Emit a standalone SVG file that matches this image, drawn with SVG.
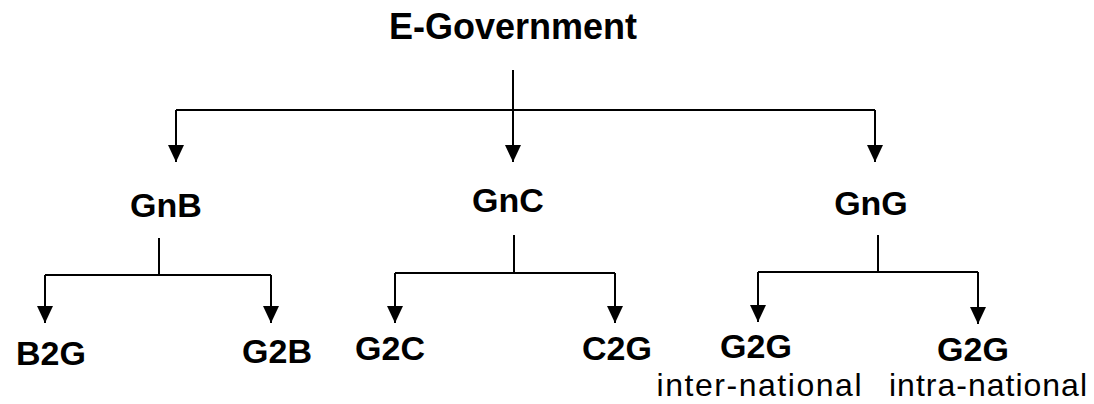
<svg xmlns="http://www.w3.org/2000/svg" width="1094" height="404" viewBox="0 0 1094 404">
<style>
.lbl{font-family:"Liberation Sans",Arial,sans-serif;font-weight:bold;font-size:34px;fill:#000;text-anchor:middle}
.top{font-size:36px}
.sub{font-family:"Liberation Sans",Arial,sans-serif;font-size:32px;fill:#000;text-anchor:middle}
.c{fill:none;stroke:#000;stroke-width:2}
</style>
<defs>
<marker id="ah" markerUnits="userSpaceOnUse" markerWidth="18" markerHeight="18" refX="17" refY="8" orient="auto" viewBox="0 0 18 16">
<path d="M0,0 L17,8 L0,16 z" fill="#000"/>
</marker>
</defs>
<rect width="1094" height="404" fill="#fff"/>
<g id="connectors">
<path class="c" d="M513,70 V162" marker-end="url(#ah)"/>
<path class="c" d="M176,110 H875"/>
<path class="c" d="M176,110 V162" marker-end="url(#ah)"/>
<path class="c" d="M875,110 V162" marker-end="url(#ah)"/>
<path class="c" d="M159,238 V275"/>
<path class="c" d="M45,275 H271"/>
<path class="c" d="M45,275 V323" marker-end="url(#ah)"/>
<path class="c" d="M271,275 V323" marker-end="url(#ah)"/>
<path class="c" d="M514,235 V273"/>
<path class="c" d="M395,273 H615"/>
<path class="c" d="M395,273 V323" marker-end="url(#ah)"/>
<path class="c" d="M615,273 V323" marker-end="url(#ah)"/>
<path class="c" d="M878,235 V272"/>
<path class="c" d="M758,272 H978"/>
<path class="c" d="M758,272 V322" marker-end="url(#ah)"/>
<path class="c" d="M978,272 V324" marker-end="url(#ah)"/>
</g>
<g id="egov"><text class="lbl top" x="513" y="39">E-Government</text></g>
<g id="gnb"><text class="lbl" x="166" y="217">GnB</text></g>
<g id="gnc"><text class="lbl" x="508" y="212">GnC</text></g>
<g id="gng"><text class="lbl" x="871" y="215">GnG</text></g>
<g id="b2g"><text class="lbl" x="51" y="365">B2G</text></g>
<g id="g2b"><text class="lbl" x="277" y="363">G2B</text></g>
<g id="g2c"><text class="lbl" x="390" y="360">G2C</text></g>
<g id="c2g"><text class="lbl" x="617" y="360">C2G</text></g>
<g id="g2g-inter"><text class="lbl" x="756" y="358">G2G</text><text class="sub" x="759" y="396" textLength="205" lengthAdjust="spacing">inter-national</text></g>
<g id="g2g-intra"><text class="lbl" x="973" y="361">G2G</text><text class="sub" x="988" y="396" textLength="198" lengthAdjust="spacing">intra-national</text></g>
</svg>
